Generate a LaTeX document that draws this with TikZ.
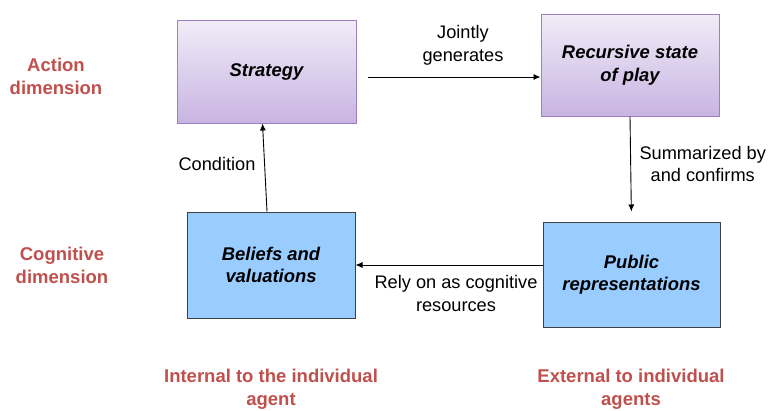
\documentclass[tikz,border=0pt]{standalone}
\usepackage{fontspec}
\setmainfont{Liberation Sans}
\usetikzlibrary{arrows.meta}
\definecolor{lilac}{HTML}{C8B4E2}
\definecolor{lilacedge}{HTML}{9C7FC2}
\definecolor{skyblue}{HTML}{99CCFF}
\definecolor{dimred}{HTML}{C0504D}
\tikzset{
  act/.style={draw=lilacedge, line width=1pt, top color=lilac!25, bottom color=lilac, font=\fontsize{18.4}{22.5}\selectfont\bfseries\itshape, align=center, inner sep=0pt},
  cog/.style={draw=black!75, line width=1pt, fill=skyblue, font=\fontsize{18.4}{22.5}\selectfont\bfseries\itshape, align=center, inner sep=0pt},
  lbl/.style={font=\fontsize{18.2}{22.5}\selectfont, align=center},
  dim/.style={text=dimred, font=\fontsize{18.5}{23}\selectfont\bfseries, align=center},
  arr/.style={-{Latex[length=7pt,width=6pt]}, line width=0.9pt}
}
\begin{document}
\begin{tikzpicture}[x=1pt,y=-1pt]
  \useasboundingbox (0,0) rectangle (769,410);
  \node[act, minimum width=179pt, minimum height=103pt](strat) at (266.5,71.5){Strategy};
  \node[act, minimum width=178pt, minimum height=102pt](rec) at (630,65){Recursive state\\of play};
  \node[cog, minimum width=168pt, minimum height=106pt](bel) at (271,265){Beliefs and\\valuations};
  \node[cog, minimum width=177pt, minimum height=105pt](pub) at (631.5,274.5){Public\\representations};
  \node[lbl](jg) at (463,45.5){Jointly\\generates};
  \node[lbl, anchor=west](sc) at (636,164){Summarized by\\and confirms};
  \node[lbl](rc) at (456,293.5){Rely on as cognitive\\resources};
  \node[lbl](cn) at (217,164){Condition};
  \node[dim](ad) at (56,76){Action\\dimension};
  \node[dim](cd) at (62,265.5){Cognitive\\dimension};
  \node[dim](in) at (271,389){Internal to the individual\\agent};
  \node[dim](ex) at (631,389.5){External to individual\\agents};
  \draw[arr, shorten <=11pt] ([yshift=-5.5pt]strat.east) -- ([yshift=-5.5pt]strat.east -| rec.west);
  \draw[arr, shorten >=10pt] (rec.south) -- (pub.north);
  \draw[arr] ([yshift=9.5pt]pub.west) -- ([yshift=9.5pt]pub.west -| bel.east);
  \draw[arr] ([xshift=-4pt]bel.north) -- ([xshift=-4pt]strat.south);
\end{tikzpicture}
\end{document}
